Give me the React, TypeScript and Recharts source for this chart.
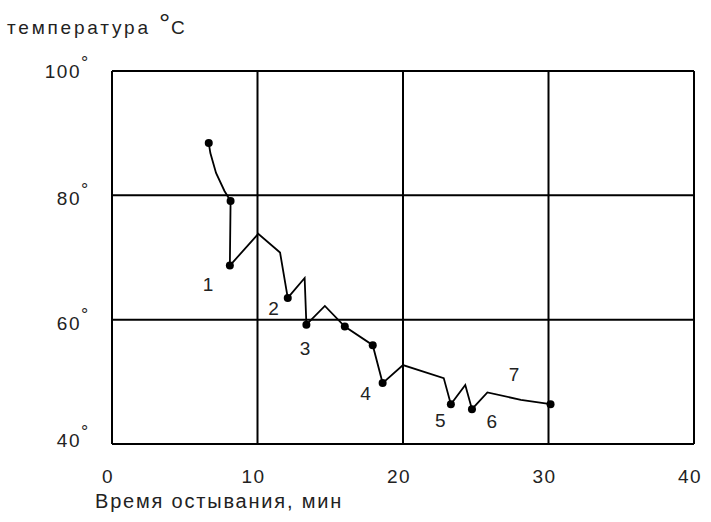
import React from 'react';
import { ComposedChart, Line, Scatter, XAxis, YAxis, CartesianGrid } from 'recharts';

// Кривая остывания (минуты, °C)
const times = [6.65, 6.76, 7.15, 7.73, 8.15, 8.1, 10.05, 11.55, 12.08, 13.24, 13.36, 14.63, 16.0, 17.92, 18.6, 20.0, 22.8, 23.29, 24.28, 24.74, 25.8, 28.1, 30.14];
const temps = [88.4, 86.8, 83.6, 80.7, 79.1, 68.7, 73.8, 70.8, 63.5, 66.7, 59.2, 62.2, 58.9, 55.9, 49.8, 52.7, 50.6, 46.4, 49.5, 45.6, 48.3, 47.1, 46.4];
// индексы точек, отмеченных кружком
const marked = [0, 4, 5, 8, 10, 12, 13, 14, 17, 19, 22];

// подписи номеров
const labelText = ['1', '2', '3', '4', '5', '6', '7'];
const labelTimes = [6.6, 11.1, 13.26, 17.43, 22.57, 26.1, 27.64];
const labelTemps = [65.8, 61.8, 55.4, 48.2, 43.8, 43.7, 51.2];

const xTicks = [0, 10, 20, 30, 40];
const yTicks = [40, 60, 80, 100];

const curve = times.map((t, i) => ({ t, temp: temps[i], mark: marked.includes(i) }));
const labels = labelText.map((text, i) => ({ t: labelTimes[i], temp: labelTemps[i], text }));

const FONT = '"Liberation Sans", Arial, sans-serif';

const XTick = ({ x, y, payload }: any) => (
  <text x={x - 4} y={y + 31} textAnchor="middle" fontSize={19} letterSpacing={1.5} fontFamily={FONT} fill="#222">{payload.value}</text>
);

const YTick = ({ x, y, payload }: any) => {
  const dy = payload.value === 40 ? 3 : payload.value === 100 ? 7 : 10;
  return (
    <g>
      <text x={x - 23} y={y + dy} textAnchor="end" fontSize={19} letterSpacing={1.5} fontFamily={FONT} fill="#222">{payload.value}</text>
      <text x={x - 23} y={y + dy - 9} textAnchor="start" fontSize={18} fontFamily={FONT} fill="#222">°</text>
    </g>
  );
};

const Dot = (props: any) => {
  const { cx, cy, payload, index } = props;
  if (!payload.mark) return <g key={index} />;
  return <circle key={index} cx={cx} cy={cy} r={4} fill="#000" />;
};

const NumLabel = ({ cx, cy, payload }: any) => (
  <text x={cx} y={cy + 7} textAnchor="middle" fontSize={19} fontFamily={FONT} fill="#222">{payload.text}</text>
);

export default function App() {
  return (
    <div style={{ position: 'absolute', left: 0, top: 0, width: 711, height: 522, background: '#fff' }}>
      <div style={{ position: 'absolute', left: 7, top: 14, fontFamily: FONT, fontSize: 19, letterSpacing: 2.8, color: '#222', lineHeight: '22px', whiteSpace: 'nowrap' }}>
        температура <span style={{ fontSize: 28, position: 'relative', top: -1, letterSpacing: 1 }}>°</span>C
      </div>
      <div style={{ position: 'absolute', left: 95, top: 490, fontFamily: FONT, fontSize: 20, letterSpacing: 1.8, color: '#222', lineHeight: '22px', whiteSpace: 'nowrap' }}>
        Время остывания, мин
      </div>
      <ComposedChart width={711} height={522} data={curve} margin={{ top: 71, right: 17, left: 52, bottom: 38 }}>
        <CartesianGrid stroke="#000" strokeWidth={2} horizontalValues={yTicks} verticalValues={xTicks} />
        <XAxis type="number" dataKey="t" domain={[0, 40]} ticks={xTicks} axisLine={false} tickLine={false} tick={<XTick />} height={40} />
        <YAxis type="number" domain={[40, 100]} ticks={yTicks} axisLine={false} tickLine={false} tick={<YTick />} width={60} />
        <Line type="linear" dataKey="temp" stroke="#000" strokeWidth={1.8} dot={<Dot />} activeDot={false} isAnimationActive={false} />
        <Scatter data={labels} dataKey="temp" shape={<NumLabel />} isAnimationActive={false} />
      </ComposedChart>
    </div>
  );
}
